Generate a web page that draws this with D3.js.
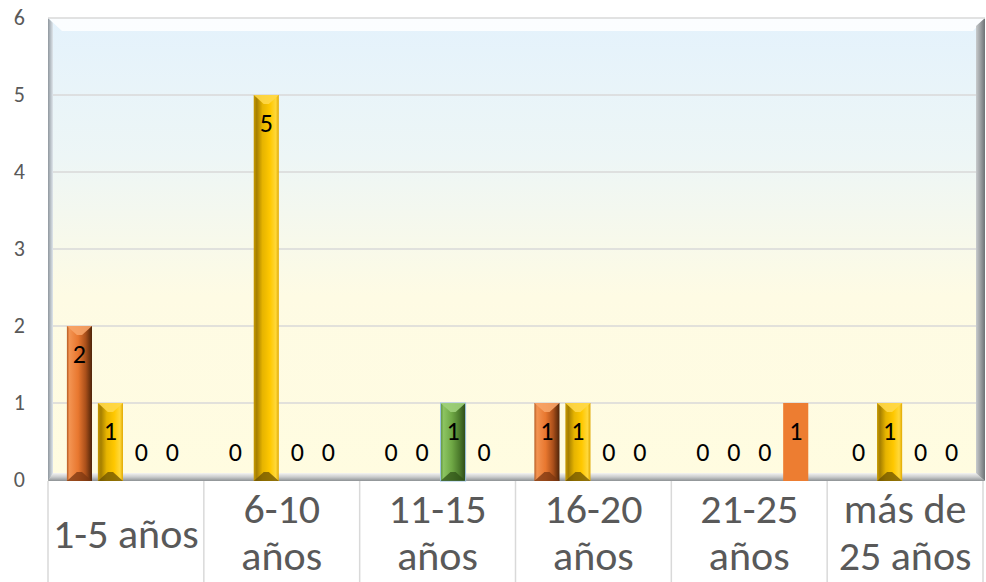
<!DOCTYPE html>
<html>
<head>
<meta charset="utf-8">
<script src="https://cdn.jsdelivr.net/npm/d3@7"></script>
<style>
  html, body { margin: 0; padding: 0; background: #fff; }
  #chart { width: 986px; height: 582px; }
</style>
</head>
<body>
<div id="chart"></div>
<script>
// chart data
const categories = ['1-5 años', '6-10 años', '11-15 años', '16-20 años', '21-25 años', 'más de 25 años']
const categoryLines = [['1-5 años'], ['6-10', 'años'], ['11-15', 'años'], ['16-20', 'años'], ['21-25', 'años'], ['más de', '25 años']]
const seriesNames = ['s1', 's2', 's3', 's4']
const s1Values = [2, 0, 0, 1, 0, 0]
const s2Values = [1, 5, 0, 1, 0, 1]
const s3Values = [0, 0, 1, 0, 0, 0]
const s4Values = [0, 0, 0, 0, 1, 0]
const yTicks = [0, 1, 2, 3, 4, 5, 6]

const seriesValues = [s1Values, s2Values, s3Values, s4Values]

// layout
const W = 986
const H = 582
const plotL = 48
const plotR = 983
const plotT = 18
const plotB = 480
const font = 'Carlito, Calibri, Lato, sans-serif'

const svg = d3.select('#chart').append('svg')
  .attr('width', W)
  .attr('height', H)
  .style('font-family', font)

const defs = svg.append('defs')

// background gradient
const bg = defs.append('linearGradient').attr('id', 'bgGrad')
  .attr('x1', 0).attr('y1', 0).attr('x2', 0).attr('y2', 1)
bg.append('stop').attr('offset', '0%').attr('stop-color', '#e4f2fc')
bg.append('stop').attr('offset', '30%').attr('stop-color', '#edf6f6')
bg.append('stop').attr('offset', '60%').attr('stop-color', '#fefbe4')
bg.append('stop').attr('offset', '100%').attr('stop-color', '#fffce0')

const floorGrad = defs.append('linearGradient').attr('id', 'floorGrad')
  .attr('x1', 0).attr('y1', 0).attr('x2', 0).attr('y2', 1)
floorGrad.append('stop').attr('offset', '0%').attr('stop-color', '#f4f4f2')
floorGrad.append('stop').attr('offset', '50%').attr('stop-color', '#c9cbcc')
floorGrad.append('stop').attr('offset', '100%').attr('stop-color', '#8d9194')

const leftGrad = defs.append('linearGradient').attr('id', 'leftGrad')
leftGrad.append('stop').attr('offset', '0%').attr('stop-color', '#8f979e')
leftGrad.append('stop').attr('offset', '100%').attr('stop-color', '#dfe6ec')

const rightGrad = defs.append('linearGradient').attr('id', 'rightGrad')
rightGrad.append('stop').attr('offset', '0%').attr('stop-color', '#c8cbcd')
rightGrad.append('stop').attr('offset', '100%').attr('stop-color', '#6e7275')

// bar gradients
function barGradient (id, stops) {
  const g = defs.append('linearGradient').attr('id', id)
  stops.forEach(function (s) {
    g.append('stop').attr('offset', s[0]).attr('stop-color', s[1])
  })
}
barGradient('g0', [['0%', '#b45a22'], ['10%', '#f39452'], ['45%', '#e8772f'], ['75%', '#a94f1a'], ['100%', '#4e2409']])
barGradient('g1', [['0%', '#c89a00'], ['12%', '#a57f00'], ['35%', '#e6b400'], ['65%', '#ffc800'], ['88%', '#ffd83a'], ['100%', '#e0a800']])
barGradient('g2', [['0%', '#5d8f3a'], ['12%', '#8cc462'], ['45%', '#6fa845'], ['75%', '#4c7b2c'], ['100%', '#2c4a18']])

const bevelTop = ['#f7a468', '#ffd848', '#9fd07a']
const bevelBottom = ['#7a3610', '#6b5200', '#2f5217']

// scales
const x0 = d3.scaleBand().domain(categories).range([plotL, plotR]).padding(0)
const x1 = d3.scaleBand().domain(seriesNames).range([0, x0.bandwidth()])
  .paddingInner(0.19).paddingOuter(0.61)
const y = d3.scaleLinear().domain([0, 6]).range([plotB, plotT])

// plot background with bevel frame
svg.append('rect')
  .attr('x', plotL).attr('y', plotT)
  .attr('width', plotR - plotL).attr('height', plotB - plotT + 1)
  .style('fill', 'url(#bgGrad)')

// top bevel (white)
svg.append('polygon')
  .attr('points', [[plotL, plotT], [plotR + 2, plotT], [plotR - 10, plotT + 13], [plotL + 14, plotT + 13]].join(' '))
  .style('fill', '#ffffff')
  .style('opacity', 0.85)

// left bevel
svg.append('polygon')
  .attr('points', [[plotL, plotT], [plotL + 5, plotT + 5], [plotL + 5, plotB - 6], [plotL, plotB + 1]].join(' '))
  .style('fill', 'url(#leftGrad)')

// right bevel
svg.append('polygon')
  .attr('points', [[plotR + 2, plotT], [plotR - 7, plotT + 8], [plotR - 7, plotB - 6], [plotR + 2, plotB + 1]].join(' '))
  .style('fill', 'url(#rightGrad)')

// floor
svg.append('polygon')
  .attr('points', [[plotL + 5, plotB - 7], [plotR - 7, plotB - 7], [plotR + 2, plotB + 1], [plotL, plotB + 1]].join(' '))
  .style('fill', 'url(#floorGrad)')

// gridlines
svg.append('g')
  .selectAll('line')
  .data(yTicks.filter(function (d) { return d > 0 }))
  .join('line')
  .attr('x1', function (d) { return d === 6 ? plotL : plotL + 5 })
  .attr('x2', function (d) { return d === 6 ? plotR + 2 : plotR - 7 })
  .attr('y1', function (d) { return y(d) })
  .attr('y2', function (d) { return y(d) })
  .style('stroke', '#d9d9d9')
  .style('stroke-width', 1.5)

// y tick labels
svg.append('g')
  .selectAll('text')
  .data(yTicks)
  .join('text')
  .attr('x', 25)
  .attr('y', function (d) { return y(d) })
  .attr('dy', '0.32em')
  .attr('text-anchor', 'end')
  .style('font-size', '22px')
  .style('fill', '#595959')
  .text(function (d) { return d })

// category dividers
const bounds = categories.map(function (c) { return x0(c) }).concat([plotR])
svg.append('g')
  .selectAll('line')
  .data(bounds)
  .join('line')
  .attr('x1', function (d) { return d })
  .attr('x2', function (d) { return d })
  .attr('y1', plotB + 1)
  .attr('y2', H)
  .style('stroke', '#d9d9d9')
  .style('stroke-width', 1.5)

// category labels
const catG = svg.append('g')
categories.forEach(function (c, i) {
  const lines = categoryLines[i]
  const cx = x0(c) + x0.bandwidth() / 2
  const lineH = 47
  const firstBase = lines.length === 1 ? 548 : 523
  lines.forEach(function (ln, j) {
    catG.append('text')
      .attr('x', cx)
      .attr('y', firstBase + j * lineH)
      .attr('text-anchor', 'middle')
      .style('font-size', '42px')
      .style('fill', '#595959')
      .text(ln)
  })
})

// bars
const barG = svg.append('g')
const labelG = svg.append('g')
seriesValues.forEach(function (vals, si) {
  vals.forEach(function (v, ci) {
    const bx = x0(categories[ci]) + x1(seriesNames[si])
    const bw = x1.bandwidth()
    const top = y(v)
    const bottom = y(0) + 1
    const h = bottom - top

    if (v > 0) {
      if (si === 3) {
        // flat bar
        barG.append('rect')
          .attr('x', bx).attr('y', top)
          .attr('width', bw).attr('height', h)
          .style('fill', '#ed7d31')
      } else {
        const bev = Math.min(10, bw / 2 - 1)
        barG.append('rect')
          .attr('x', bx).attr('y', top)
          .attr('width', bw).attr('height', h)
          .style('fill', 'url(#g' + si + ')')
          .style('stroke', si === 2 ? '#9dc3e6' : 'none')
          .style('stroke-width', 1)
        barG.append('polygon')
          .attr('points', [[bx, top], [bx + bw, top], [bx + bw - bev, top + bev * 0.9], [bx + bev, top + bev * 0.9]].join(' '))
          .style('fill', bevelTop[si])
          .style('opacity', 0.9)
        barG.append('polygon')
          .attr('points', [[bx, bottom], [bx + bw, bottom], [bx + bw - bev, bottom - bev * 0.9], [bx + bev, bottom - bev * 0.9]].join(' '))
          .style('fill', bevelBottom[si])
          .style('opacity', 0.75)
      }
    }

    labelG.append('text')
      .attr('x', bx + bw / 2)
      .attr('y', v > 0 ? top + 29 : y(0) - 27)
      .attr('dy', '0.32em')
      .attr('text-anchor', 'middle')
      .style('font-size', '26px')
      .style('fill', '#000')
      .text(v)
  })
})
</script>
</body>
</html>
